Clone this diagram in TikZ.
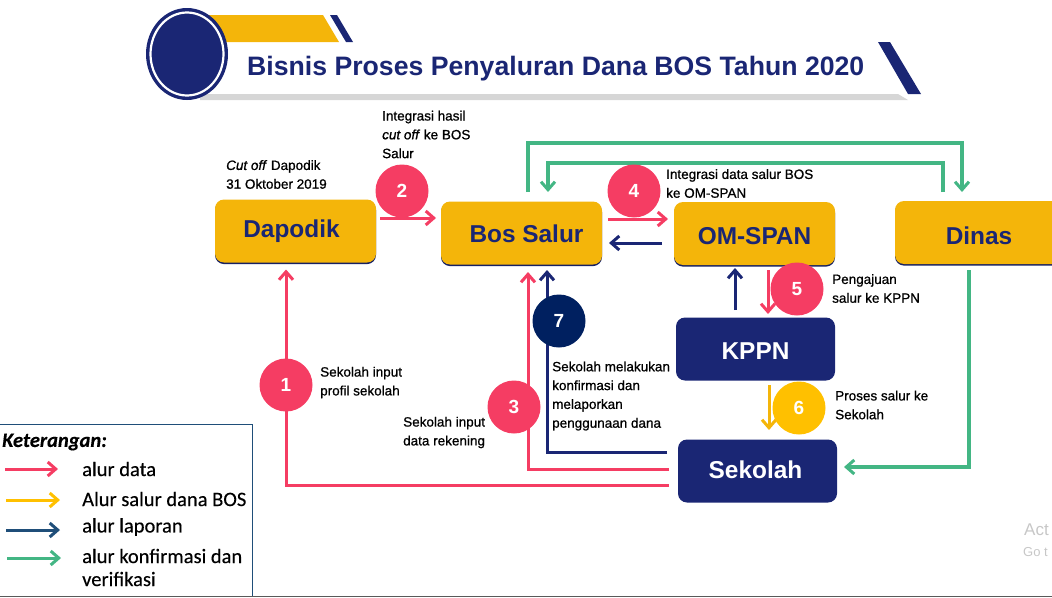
\documentclass[tikz,border=0pt]{standalone}
\usepackage{fontspec}
\setmainfont{Liberation Sans}
\newfontfamily\lblfont[FakeBold=0.9]{Liberation Sans}
\newfontfamily\legfont[FakeBold=0.3]{Carlito}
\usetikzlibrary{arrows.meta}
\definecolor{navy}{HTML}{1A2674}
\definecolor{deepnavy}{HTML}{002060}
\definecolor{gold}{HTML}{F4B50A}
\definecolor{sun}{HTML}{FFC000}
\definecolor{rosered}{HTML}{F53D63}
\definecolor{teal}{HTML}{43B684}
\definecolor{repblue}{HTML}{1F4E79}
\newcommand{\boxlabel}[3]{\raisebox{#2}[0pt][0pt]{\makebox[0pt]{\hspace*{#1}#3}}}
\tikzset{
  x=1pt,y=-1pt,
  barb/.style={-{Straight Barb[length=8pt,width=14pt,line width=3pt]},line width=3pt},
  flowred/.style={barb,draw=rosered},
  flownavy/.style={barb,draw=navy},
  flowgreen/.style={barb,draw=teal,line width=3.5pt},
  flowgold/.style={barb,draw=gold},
  box/.style={rounded corners=9pt,minimum height=63pt,inner sep=0pt,font=\fontsize{24.4}{24}\selectfont\bfseries,outer sep=0pt},
  goldbox/.style={box,fill=gold,text=navy,preaction={fill=navy!85!black,transform canvas={yshift=-1.6pt}}},
  navybox/.style={box,fill=navy,text=white},
  num/.style={circle,minimum size=53pt,inner sep=0pt,text=white,font=\fontsize{19}{19}\selectfont\bfseries},
  note/.style={anchor=west,inner sep=0pt,align=left,font=\lblfont\fontsize{13.5}{18.8}\selectfont},
  legtext/.style={anchor=west,inner sep=0pt,align=left,font=\legfont\fontsize{20.5}{23}\selectfont},
}
\begin{document}
\begin{tikzpicture}
\useasboundingbox (0,0) rectangle (1052,597);
\clip (0,0) rectangle (1052,597);
% header
\fill[gold] (205,15) -- (323,15) -- (339,42) -- (205,42) -- cycle;
\fill[navy] (330,15) -- (337,15) -- (353,42) -- (346,42) -- cycle;
\fill[black!16] (200,94) -- (898,94) -- (908,100) -- (200,100) -- cycle;
\fill[navy] (878,42) -- (890,42) -- (921,94) -- (908,94) -- cycle;
\fill[navy] (187,54) ellipse [x radius=41,y radius=46];
\draw[white,line width=2.2pt] (187,54) ellipse [x radius=36.5,y radius=41.5];
\node[anchor=west,inner sep=0pt,text=navy,font=\fontsize{26.65}{26}\selectfont\bfseries] (title) at (247,68.5) {Bisnis Proses Penyaluran Dana BOS Tahun 2020};
% boxes
\node[goldbox,minimum width=161pt] (dapodik) at (295.5,231) {\boxlabel{-8pt}{-6.75pt}{Dapodik}};
\node[goldbox,minimum width=161pt] (bos) at (521.5,233) {\boxlabel{10pt}{-9.25pt}{Bos Salur}};
\node[goldbox,minimum width=161pt] (om) at (754.5,233.5) {\boxlabel{0pt}{-10.75pt}{OM-SPAN}};
\node[goldbox,minimum width=175pt] (dinas) at (982.5,232.5) {\boxlabel{-7pt}{-11.75pt}{Dinas}};
\node[navybox,minimum width=159pt] (kppn) at (755.5,349) {\boxlabel{0pt}{-10pt}{KPPN}};
\node[navybox,minimum width=159pt] (sekolah) at (757.5,471) {\boxlabel{-4pt}{-7.25pt}{Sekolah}};
% connectors
\draw[flowred] ([xshift=-9pt,yshift=-14pt]sekolah.west) -| ([xshift=-9.5pt,yshift=-7pt]dapodik.south);
\draw[flowred] ([xshift=-9pt,yshift=2pt]sekolah.west) -| ([xshift=6.5pt,yshift=-7.5pt]bos.south);
\draw[flownavy] ([xshift=-11pt,yshift=19pt]sekolah.west) -| ([xshift=25.5pt,yshift=-5.5pt]bos.south);
\draw[flowred] ([xshift=4pt,yshift=13pt]dapodik.east) -- ([xshift=-5pt,yshift=15pt]bos.west);
\draw[flowred] ([xshift=6pt,yshift=14pt]bos.east) -- ([xshift=-6pt,yshift=14.5pt]om.west);
\draw[flownavy] ([xshift=-12pt,yshift=-9.5pt]om.west) -- ([xshift=7pt,yshift=-10pt]bos.east);
\draw[flownavy] ([xshift=-20.5pt,yshift=7.5pt]kppn.north) -- ([xshift=-19.5pt,yshift=-3pt]om.south);
\draw[flowred] ([xshift=13.5pt,yshift=-5pt]om.south) -- ([xshift=12.5pt,yshift=3.5pt]kppn.north);
\draw[flowgold] ([xshift=13.5pt,yshift=-4.5pt]kppn.south) -- ([xshift=11.5pt,yshift=9.5pt]sekolah.north);
\draw[flowgreen] ([xshift=6.5pt,yshift=9.5pt]bos.north) -- ++(0,-49) -| ([xshift=-20.5pt,yshift=9pt]dinas.north);
\draw[flowgreen] ([xshift=-39.5pt,yshift=9pt]dinas.north) -- ++(0,-29) -| ([xshift=26.5pt,yshift=9.5pt]bos.north);
\draw[flowgreen] ([xshift=-13.5pt,yshift=-6pt]dinas.south) |- ([xshift=7pt,yshift=4pt]sekolah.east);
% numbered circles
\node[num,fill=rosered] (n1) at (286,385) {1};
\node[num,fill=rosered] (n2) at (402,191) {2};
\node[num,fill=rosered] (n3) at (514,407) {3};
\node[num,fill=rosered] (n4) at (634,191) {4};
\node[num,fill=rosered] (n5) at (797,289) {5};
\node[num,fill=sun] (n6) at (799,408) {6};
\node[num,fill=deepnavy] (n7) at (559,321) {7};
% notes
\node[note] (t2) at (382,134.5) {Integrasi hasil\\\textit{cut off} ke BOS\\Salur};
\node[note] (t0) at (226,174.5) {\textit{Cut off} Dapodik\\31 Oktober 2019};
\node[note] (t4) at (666,183.5) {Integrasi data salur BOS\\ke OM-SPAN};
\node[note] (t5) at (832,288.5) {Pengajuan\\salur ke KPPN};
\node[note] (t1) at (320,382.5) {Sekolah input\\profil sekolah};
\node[note] (t3) at (403,432.5) {Sekolah input\\data rekening};
\node[note] (t7) at (552,396) {Sekolah melakukan\\konfirmasi dan\\melaporkan\\penggunaan dana};
\node[note] (t6) at (835,405) {Proses salur ke\\Sekolah};
% legend
\draw[repblue,line width=1pt] (0,424) -- (252.5,424) -- (252.5,597);
\node[anchor=west,inner sep=0pt,font=\legfont\fontsize{20.5}{23}\selectfont\bfseries\itshape] (legtitle) at (2,442) {Keterangan:};
\coordinate (la1) at (5,469); \coordinate (lb1) at (58,469);
\coordinate (la2) at (6,500); \coordinate (lb2) at (60,500);
\coordinate (la3) at (6,530); \coordinate (lb3) at (60,530);
\coordinate (la4) at (7,558); \coordinate (lb4) at (61,558);
\draw[barb,draw=rosered] (la1) -- (lb1);
\draw[barb,draw=sun] (la2) -- (lb2);
\draw[barb,draw=repblue] (la3) -- (lb3);
\draw[barb,draw=teal] (la4) -- (lb4);
\node[legtext] (l1) at (82,469) {alur data};
\node[legtext] (l2) at (82,499) {Alur salur dana BOS};
\node[legtext] (l3) at (82,527) {alur laporan};
\node[legtext] (l4) at (82,567.5) {alur konfirmasi dan\\verifikasi};
% bottom edge and watermark
\draw[black!65,line width=1.2pt] (0,596.5) -- (1052,596.5);
\node[anchor=west,inner sep=0pt,text=black!22,font=\fontsize{17}{17}\selectfont] (act) at (1024,530) {Act};
\node[anchor=west,inner sep=0pt,text=black!22,font=\fontsize{13}{13}\selectfont] (got) at (1023,552) {Go t};
\end{tikzpicture}
\end{document}
